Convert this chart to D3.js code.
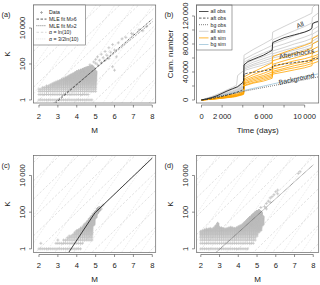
<!DOCTYPE html>
<html>
<head>
<meta charset="utf-8">
<script src="https://cdn.jsdelivr.net/npm/d3@7"></script>
<style>
  body { margin: 0; background: #fff; }
  svg { font-family: "Liberation Sans", Arial, sans-serif; }
</style>
</head>
<body>
<svg width="320" height="285"></svg>
<script>
// magnitude bins of the catalogue (0.1 steps)
var magBins = [2.0,2.1,2.2,2.3,2.4,2.5,2.6,2.7,2.8,2.9,3.0,3.1,3.2,3.3,3.4,3.5,3.6,3.7,3.8,3.9,
               4.0,4.1,4.2,4.3,4.4,4.5,4.6,4.7,4.8,4.9,5.0,5.1,5.2,5.3];

// ---- (a) observed K vs M ----
var aCloudM   = [2.0,2.1,2.2,2.3,2.4,2.5,2.6,2.7,2.8,2.9,3.0,3.1,3.2,3.3,3.4,3.5,3.6,3.7,3.8,3.9,4.0,4.1,4.2,4.3,4.4,4.5,4.6,4.7,4.8,4.9,5.0];
var aCloudTop = [4,4,5,5,6,6,7,8,9,10,11,12,14,15,17,19,22,25,28,32,38,42,45,50,55,60,65,70,75,60,40];
var aRow1 = [2.0, 4.8];   // K = 1 row (first, last M)
var aRow2 = [2.0, 4.6];   // K = 2 row
var aSparse = [[4.7,90],[4.9,130],[5.0,180],[5.0,110],[5.1,250],[5.1,90],[5.2,160],[5.3,350],[5.3,120],
               [5.4,220],[5.5,500],[5.5,160],[5.6,300],[5.7,800],[5.7,200],[5.8,450],[5.9,1200],[5.9,70],
               [6.0,600],[6.0,45],[6.1,250],[6.2,1500],[6.4,2500],[6.6,3000],[6.9,5000],[7.0,4400],
               [7.3,8000],[7.5,7000],[7.7,12000]];
var aFitM6 = [[2.85, 0.63], [8.0, 31600]];
var aFitM2 = [[2.75, 0.63], [8.0, 22000]];

// ---- (c) ----
var cCloudM   = [3.4,3.5,3.6,3.7,3.8,3.9,4.0,4.1,4.2,4.3,4.4,4.5,4.6,4.7,4.8,4.9,5.0,5.1,5.2];
var cCloudTop = [3,4,5,5,6,8,10,11,13,15,20,25,32,45,60,80,110,150,180];
var cCloudBot = [3,3,3,3,3,3,3,3,3,3,3,3,3,3,3,20,50,90,120];
var cRow1 = [2.0, 4.2];
var cRow2 = [2.9, 4.3];
var cSparse = [[2.1,2],[3.0,3],[3.3,3],[5.3,150],[5.3,200],[5.4,250]];
var cFit = [[3.58, 0.65], [4.96, 91], [8.0, 89000]];

// ---- (d) ----
var dCloudM   = [2.0,2.1,2.2,2.3,2.4,2.5,2.6,2.7,2.8,2.9,3.0,3.1,3.2,3.3,3.4,3.5,3.6,3.7,3.8,3.9,4.0,4.1,4.2,4.3,4.4,4.5,4.6,4.7,4.8,4.9,5.0,5.1,5.2,5.3];
var dCloudTop = [9,10,11,12,12,13,12,14,18,25,15,14,13,12,13,14,15,14,13,14,16,18,20,25,31,40,50,60,75,90,110,120,100,60];
var dCloudBot = [3,3,3,3,3,3,3,3,3,3,3,3,3,3,3,3,3,3,3,3,3,3,3,3,3,3,3,3,3,3,5,8,10,20];
var dRow1 = [2.0, 4.5];
var dRow2 = [2.0, 4.8];
var dSparse = [[5.4,200],[5.5,300],[5.5,150],[5.6,400],[5.7,350],[5.7,600],[5.8,700],[5.9,900],
               [6.0,1300],[6.1,1000],[6.1,1600],[5.2,180],[7.2,13000],[7.3,16000]];
var dFit = [[2.83, 0.65], [8.0, 38000]];

// ---- (b) cumulative numbers (thousands) ----
var obsT   = [0,500,1000,1500,2000,2500,3000,3500,4000,4080,4120,4500,5000,5500,6000,6500,6850,6900,7500,8000,8500,9000,9500,10000,10500,10700,10750,11000,11300];
var obsAll = [0,1.5,3.5,6,9.5,13,16,19,25,28,50,55,58,61,64,68,71,82,86,89,91,93,95,97,100,103,109,111,112];
var obsAft = [0,0.8,2,3.5,5,7,9,11.5,14.5,16,37,38.5,39.5,40.5,41.5,43,44,49,50.5,51.5,52.5,53.5,54.5,55,56,56.5,58.5,59,59.5];
var obsBg  = [0,1.5,3,4.5,6,7.5,9,10.5,12,12.3,12.6,13.6,15,16.4,17.8,19.2,20.2,20.4,22,23.4,24.8,26.2,27.6,29,30.4,31,31.2,32,33];

var simT = [0,1000,2000,3000,3400,3500,4000,4080,4120,5000,6000,6850,6900,8000,9000,10000,10700,10750,11300];
var simAll = [
  [0,5,11,18,21,35,41,42,64,72,80,87,97,105,112,119,124,132,140],
  [0,4,10,16,18,19,24,25,58,65,72,78,86,93,99,105,110,118,124],
  [0,4,9,15,17,18,22,23,54,61,67,72,80,86,92,97,101,108,113],
  [0,3,8,13,15,16,20,21,51,57,62,67,75,80,85,90,94,100,105],
  [0,3,7,12,14,15,19,20,48,54,59,63,70,75,80,84,88,94,99],
  [0,3,7,11,13,14,18,19,46,51,56,60,66,71,75,79,83,88,93],
  [0,2,6,10,12,13,17,18,44,49,53,57,63,67,71,75,79,84,89],
  [0,2,6,10,11,12,16,17,42,46,50,54,60,64,68,72,75,80,85]
];
var simAft = [
  [0,2,5,8,9,10,12,12.5,33,40,47,53,62,68,73,78,82,88,92],
  [0,2,4,7,8,8.5,11,11.5,30,36,42,47,56,61,66,70,74,80,84],
  [0,1.5,4,6,7,7.5,10,10.5,28,33,38,43,51,56,60,64,67,72,76],
  [0,1.5,3.5,6,7,7.5,9.5,10,26,31,35,40,47,52,56,59,62,67,70],
  [0,1.5,3,5,6,6.5,9,9.5,24,29,33,37,44,48,52,55,58,62,65],
  [0,1,3,5,6,6.5,8.5,9,23,27,31,35,41,45,49,52,55,59,62],
  [0,1,2.5,4.5,5.5,6,8,8.5,21,25,29,33,39,43,46,49,52,56,59],
  [0,1,2.5,4,5,5.5,7.5,8,20,24,27,31,37,40,43,46,49,52,55]
];
var simBg = [0,3.3,6.6,9.9,11.2,11.6,13.2,13.5,13.6,16.5,19.8,22.6,22.8,26.4,29.7,33,35.3,35.5,37.3];

var guideOffsets = [-6,-5,-4,-3,-2,-1,0,1,2,3,4,5,6,7,8,9];
var mTicks = [2,3,4,5,6,7,8];
var kTicks = [1,100,10000];

// ---------------------------------------------------------------
var svg = d3.select("svg");
var boxCol = "#666", axCol = "#444", txtCol = "#222", ptCol = "#bdbdbd", guideCol = "#cfcfcf";
var spaced = function(v) { return d3.format(",")(v).replace(/,/g, "\u2009"); };
var clipId = 0;

function clipGroup(box) {
  var id = "clip" + (clipId++);
  svg.append("clipPath").attr("id", id).append("rect")
    .attr("x", box[0]).attr("y", box[2]).attr("width", box[1] - box[0]).attr("height", box[3] - box[2]);
  return svg.append("g").attr("clip-path", "url(#" + id + ")");
}

function drawBox(box) {
  svg.append("rect").attr("x", box[0]).attr("y", box[2])
    .attr("width", box[1] - box[0]).attr("height", box[3] - box[2])
    .attr("fill", "none").attr("stroke", boxCol).attr("stroke-width", 0.7);
}

function xAxis(x, box, ticks, labels, fmt) {
  var ya = box[3] + 2;
  svg.append("line").attr("x1", x(ticks[0])).attr("x2", x(ticks[ticks.length - 1]))
    .attr("y1", ya).attr("y2", ya).attr("stroke", axCol).attr("stroke-width", 0.6);
  ticks.forEach(function(t) {
    svg.append("line").attr("x1", x(t)).attr("x2", x(t)).attr("y1", ya).attr("y2", ya + 2.5)
      .attr("stroke", axCol).attr("stroke-width", 0.6);
  });
  labels.forEach(function(t) {
    svg.append("text").attr("x", x(t)).attr("y", ya + 13.5).attr("text-anchor", "middle")
      .attr("font-size", 7.6).attr("fill", txtCol).text(fmt(t));
  });
}

function yAxis(y, box, ticks, labels, fmt) {
  var xa = box[0] - 2;
  svg.append("line").attr("x1", xa).attr("x2", xa).attr("y1", y(ticks[0])).attr("y2", y(ticks[ticks.length - 1]))
    .attr("stroke", axCol).attr("stroke-width", 0.6);
  ticks.forEach(function(t) {
    svg.append("line").attr("x1", xa - 2.5).attr("x2", xa).attr("y1", y(t)).attr("y2", y(t))
      .attr("stroke", axCol).attr("stroke-width", 0.6);
  });
  labels.forEach(function(t) {
    svg.append("text").attr("transform", "translate(" + (xa - 7) + "," + y(t) + ") rotate(-90)")
      .attr("text-anchor", "middle").attr("font-size", 7.6).attr("fill", txtCol).text(fmt(t));
  });
}

function titles(box, xt, yt, tag) {
  var cx = (box[0] + box[1]) / 2, cy = (box[2] + box[3]) / 2;
  svg.append("text").attr("x", cx).attr("y", box[3] + 29.5).attr("text-anchor", "middle")
    .attr("font-size", 8).attr("fill", txtCol).text(xt);
  svg.append("text").attr("transform", "translate(" + (box[0] - 23.5) + "," + cy + ") rotate(-90)")
    .attr("text-anchor", "middle").attr("font-size", 8).attr("fill", txtCol).text(yt);
  svg.append("text").attr("x", box[0] - 32).attr("y", box[2] + 12)
    .attr("font-size", 7.2).attr("fill", txtCol).text(tag);
}

function plus(g, px, py, col) {
  g.append("path").attr("d", "M" + (px - 1.5) + "," + py + "h3M" + px + "," + (py - 1.5) + "v3")
    .attr("stroke", col).attr("stroke-width", 0.7).attr("fill", "none");
}

function scatterPanel(cfg) {
  var x = d3.scaleLinear().domain(cfg.xd).range([cfg.box[0], cfg.box[1]]);
  var y = d3.scaleLog().domain(cfg.yd).range([cfg.box[3], cfg.box[2]]);
  var g = clipGroup(cfg.box);

  // alpha guide lines
  guideOffsets.forEach(function(c) {
    g.append("line").attr("x1", x(cfg.xd[0])).attr("y1", y(Math.pow(10, cfg.xd[0] - c)))
      .attr("x2", x(cfg.xd[1])).attr("y2", y(Math.pow(10, cfg.xd[1] - c)))
      .attr("stroke", guideCol).attr("stroke-width", 0.6).attr("stroke-dasharray", "2.5,1.8");
    g.append("line").attr("x1", x(cfg.xd[0])).attr("y1", y(Math.pow(10, 1.5 * (cfg.xd[0] - c - 0.5))))
      .attr("x2", x(cfg.xd[1])).attr("y2", y(Math.pow(10, 1.5 * (cfg.xd[1] - c - 0.5))))
      .attr("stroke", guideCol).attr("stroke-width", 0.6).attr("stroke-dasharray", "0.7,1.3");
  });

  // points: K = 1 and K = 2 rows, dense cloud, sparse large events
  var pts = [];
  magBins.forEach(function(m) {
    if (m >= cfg.row1[0] - 1e-9 && m <= cfg.row1[1] + 1e-9) pts.push([m, 1]);
    if (m >= cfg.row2[0] - 1e-9 && m <= cfg.row2[1] + 1e-9) pts.push([m, 2]);
  });
  cfg.cloudM.forEach(function(m, i) {
    var lo = cfg.cloudBot ? cfg.cloudBot[i] : 3;
    for (var k = lo; k <= cfg.cloudTop[i]; k++) pts.push([m, k]);
  });
  cfg.sparse.forEach(function(p) { pts.push(p); });
  pts.forEach(function(p) { plus(g, x(p[0]), y(p[1]), ptCol); });

  // fitted lines
  cfg.fits.forEach(function(f) {
    g.append("path").attr("d", d3.line().x(function(d) { return x(d[0]); }).y(function(d) { return y(d[1]); })(f.pts))
      .attr("fill", "none").attr("stroke", f.col).attr("stroke-width", f.w)
      .attr("stroke-dasharray", f.dash || null);
  });

  drawBox(cfg.box);
  xAxis(x, cfg.box, mTicks, mTicks, function(v) { return v; });
  yAxis(y, cfg.box, kTicks, kTicks, spaced);
  titles(cfg.box, "M", "K", cfg.tag);
}

// (a)
scatterPanel({
  box: [33.5, 155.7, 5, 103], xd: [1.71, 8.18], yd: [Math.pow(10, -0.17), Math.pow(10, 5.28)],
  cloudM: aCloudM, cloudTop: aCloudTop, row1: aRow1, row2: aRow2, sparse: aSparse, tag: "(a)",
  fits: [{ pts: aFitM2, col: "#333", w: 0.7, dash: "0.8,1.2" },
         { pts: aFitM6, col: "#333", w: 0.7, dash: "2.5,1.5" }]
});
// (c)
scatterPanel({
  box: [33.5, 155.7, 155.5, 252.5], xd: [1.71, 8.18], yd: [Math.pow(10, -0.2), Math.pow(10, 5.09)],
  cloudM: cCloudM, cloudTop: cCloudTop, cloudBot: cCloudBot, row1: cRow1, row2: cRow2, sparse: cSparse, tag: "(c)",
  fits: [{ pts: cFit, col: "#111", w: 0.8 }]
});
// (d)
scatterPanel({
  box: [196.5, 318.7, 155.5, 252.5], xd: [1.77, 8.29], yd: [Math.pow(10, -0.2), Math.pow(10, 5.09)],
  cloudM: dCloudM, cloudTop: dCloudTop, cloudBot: dCloudBot, row1: dRow1, row2: dRow2, sparse: dSparse, tag: "(d)",
  fits: [{ pts: dFit, col: "#333", w: 0.7, dash: "0.8,0.8" }]
});

// (b)
(function() {
  var box = [196.5, 318.7, 5, 103];
  var x = d3.scaleLinear().domain([-485, 11360]).range([box[0], box[1]]);
  var y = d3.scaleLinear().domain([-4.3, 135.7]).range([box[3], box[2]]);
  var g = clipGroup(box);
  var line = function(ts) {
    return d3.line().x(function(d, i) { return x(ts[i]); }).y(function(d) { return y(d); });
  };
  simAll.forEach(function(s) {
    g.append("path").attr("d", line(simT)(s)).attr("fill", "none").attr("stroke", "#c8c8c8").attr("stroke-width", 0.8);
  });
  simAft.forEach(function(s) {
    g.append("path").attr("d", line(simT)(s)).attr("fill", "none").attr("stroke", "#ffa500").attr("stroke-width", 0.8);
  });
  g.append("path").attr("d", line(simT)(simBg)).attr("fill", "none").attr("stroke", "#9cc3d8").attr("stroke-width", 0.8);
  g.append("path").attr("d", line(obsT)(obsBg)).attr("fill", "none").attr("stroke", "#333").attr("stroke-width", 0.8).attr("stroke-dasharray", "0.8,1.2");
  g.append("path").attr("d", line(obsT)(obsAft)).attr("fill", "none").attr("stroke", "#333").attr("stroke-width", 0.8).attr("stroke-dasharray", "2.5,1.5");
  g.append("path").attr("d", line(obsT)(obsAll)).attr("fill", "none").attr("stroke", "#222").attr("stroke-width", 0.9);

  // curve labels
  [["All", 301, 27, -22], ["Aftershocks", 297, 56, -10], ["Background", 297, 81, -12]].forEach(function(l) {
    svg.append("text").attr("transform", "translate(" + l[1] + "," + l[2] + ") rotate(" + l[3] + ")")
      .attr("text-anchor", "middle").attr("font-size", 6.8).attr("fill", "#333").text(l[0]);
  });

  // legend
  var leg = [["all obs", "#222", null], ["aft obs", "#333", "2.5,1.5"], ["bg obs", "#333", "0.8,1.2"],
             ["all sim", "#c8c8c8", null], ["aft sim", "#ffa500", null], ["bg sim", "#9cc3d8", null]];
  svg.append("rect").attr("x", box[0]).attr("y", box[2]).attr("width", 35.5).attr("height", 45)
    .attr("fill", "#fff").attr("stroke", boxCol).attr("stroke-width", 0.6);
  leg.forEach(function(l, i) {
    var ly = 11.5 + i * 6.6;
    svg.append("line").attr("x1", 199).attr("x2", 208.5).attr("y1", ly).attr("y2", ly)
      .attr("stroke", l[1]).attr("stroke-width", 0.8).attr("stroke-dasharray", l[2]);
    svg.append("text").attr("x", 210.5).attr("y", ly + 1.8).attr("font-size", 5.2).attr("fill", txtCol).text(l[0]);
  });

  drawBox(box);
  xAxis(x, box, [0, 2000, 4000, 6000, 8000, 10000], [0, 2000, 6000, 10000], spaced);
  yAxis(y, box, [0, 20, 40, 60, 80, 100, 120], [0, 40, 80, 120], function(v) { return spaced(v * 1000); });
  titles(box, "Time (days)", "Cum. number", "(b)");
})();

// legend (a)
(function() {
  var items = [["Data", "pt"], ["MLE fit M\u22656", "#333", "2.5,1.5"], ["MLE fit M\u22652", "#333", "0.8,1.2"],
               ["\u03b1 = ln(10)", guideCol, "2.5,1.8"], ["\u03b1 = 3/2ln(10)", guideCol, "0.7,1.3"]];
  svg.append("rect").attr("x", 33.5).attr("y", 5).attr("width", 52).attr("height", 40)
    .attr("fill", "#fff").attr("stroke", boxCol).attr("stroke-width", 0.6);
  items.forEach(function(it, i) {
    var ly = 12.5 + i * 6.6;
    if (it[1] === "pt") plus(svg, 41.5, ly, "#999");
    else svg.append("line").attr("x1", 36.5).attr("x2", 46.5).attr("y1", ly).attr("y2", ly)
      .attr("stroke", it[1]).attr("stroke-width", 0.8).attr("stroke-dasharray", it[2]);
    svg.append("text").attr("x", 49).attr("y", ly + 1.8).attr("font-size", 5.2).attr("fill", txtCol).text(it[0]);
  });
})();
</script>
</body>
</html>
